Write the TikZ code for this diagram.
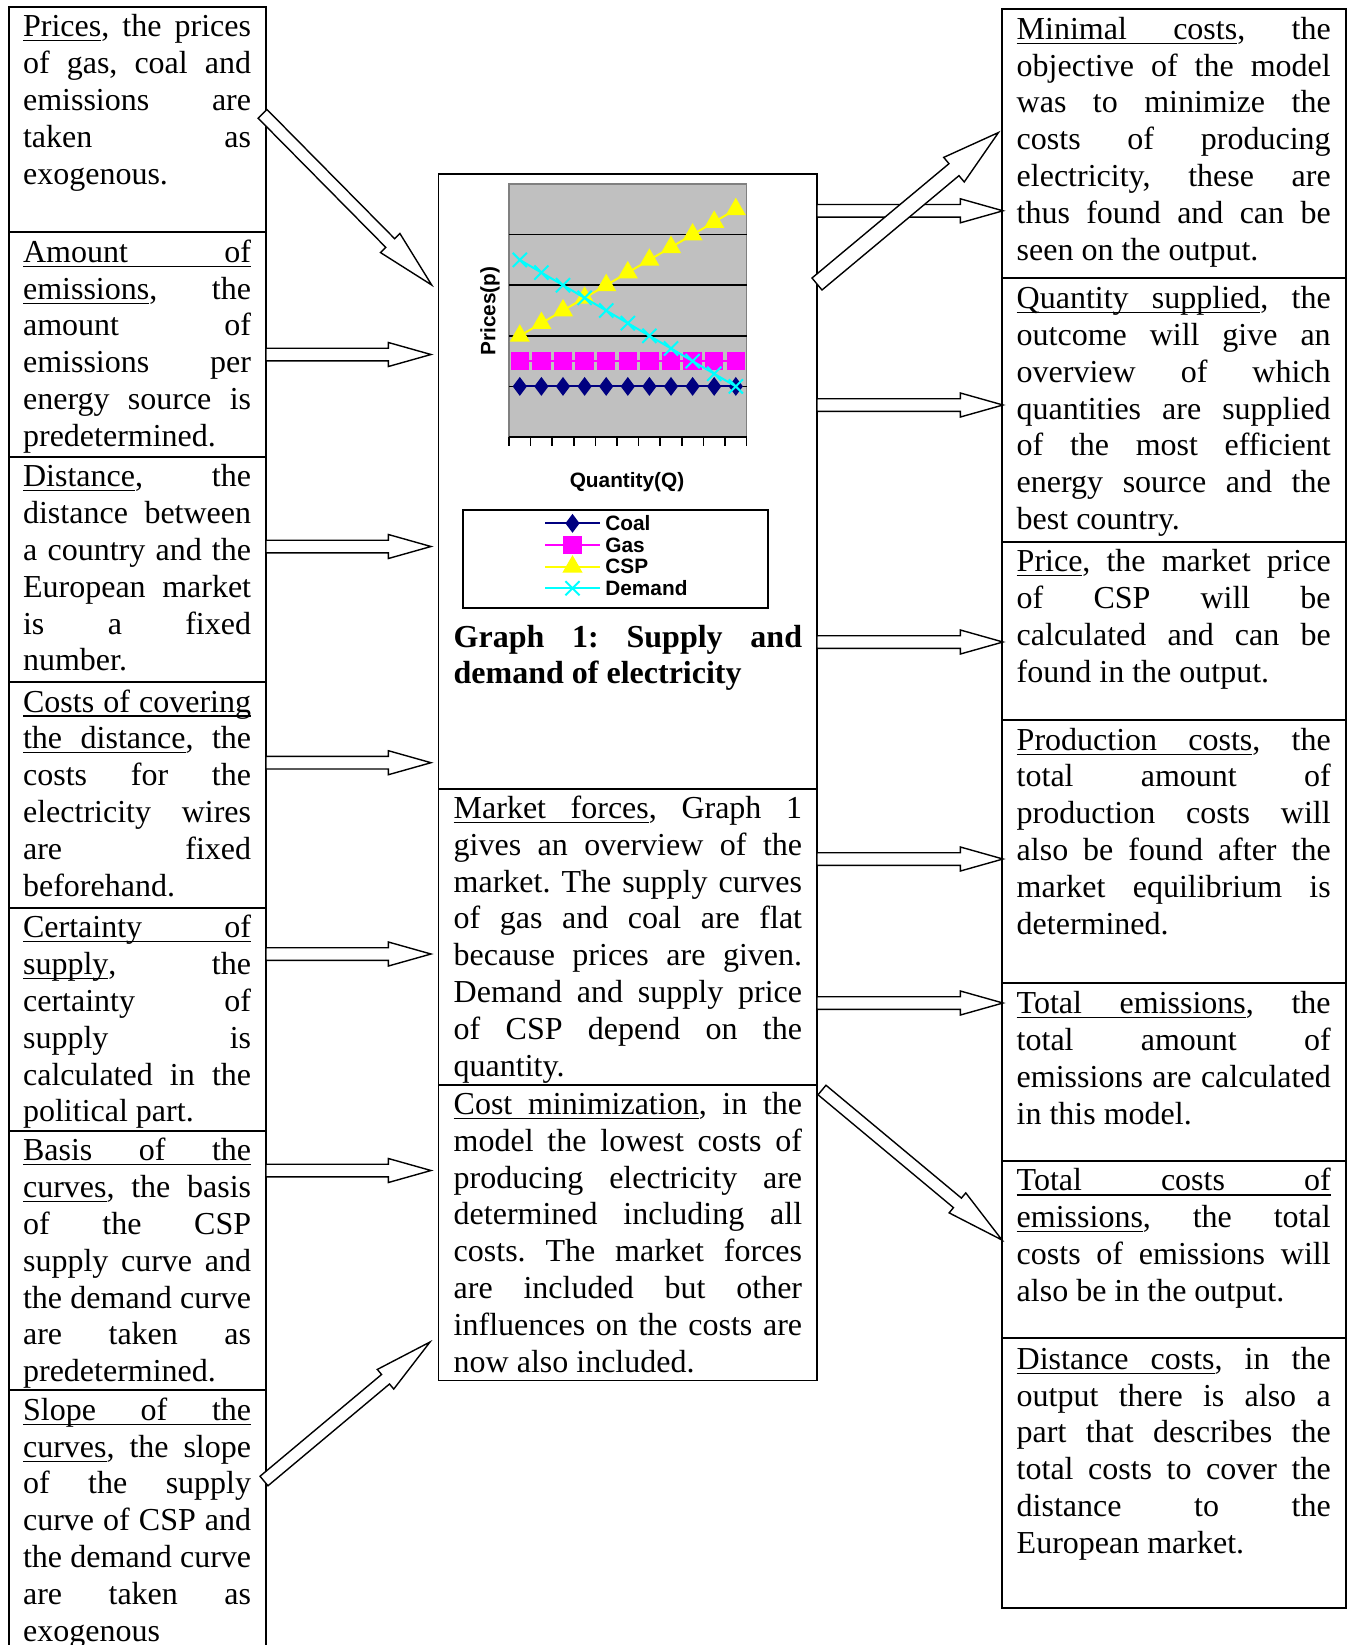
\documentclass[tikz,border=0pt]{standalone}
\usepackage{fontspec}
\setmainfont{Liberation Serif}
\setsansfont{Liberation Sans}
\usetikzlibrary{calc, fit, plotmarks}
\definecolor{plotgray}{HTML}{C0C0C0}
\definecolor{framegray}{HTML}{808080}
\definecolor{coalblue}{HTML}{000080}
\definecolor{gasmag}{HTML}{FF00FF}
\definecolor{cspyel}{HTML}{FFFF00}
\definecolor{demcyan}{HTML}{00FFFF}
\newcommand\bodyfont{\fontsize{16}{18.4}\selectfont\frenchspacing}
\newcommand\chartfont{\fontsize{10.4}{12}\selectfont\sffamily\bfseries}
% blocos de texto das colunas
\newcommand\lcol[1]{\vtop{\hsize=114pt #1}}
\newcommand\ccol[1]{\vtop{\hsize=174.2pt #1}}
\newcommand\rcol[1]{\vtop{\hsize=157pt #1}}
% linha justificada / ultima linha
\newcommand\jl[1]{\hbox to\hsize{\strut#1}}
\newcommand\lastl[1]{\hbox{\strut#1}}
% palavra sublinhada / espaco sublinhado
\newcommand\uw[1]{\setbox0\hbox{#1}\rlap{\vrule width\wd0 height -1.7pt depth 2.3pt}\box0}
\newcommand\ulsp{\leaders\hrule height -1.7pt depth 2.3pt\hskip\fontdimen2\font plus\fontdimen3\font minus\fontdimen4\font}
% seta de bloco: meia largura da haste, comprimento da ponta, meia largura da ponta, origem, destino
\newcommand\blockarrow[5]{%
  \coordinate (ah) at ($(#5)!#2!(#4)$);
  \draw[barrow] ($(#4)!#1!90:(#5)$) -- ($(ah)!#1!-90:(#4)$)
    -- ($(ah)!#3!-90:(#4)$) -- (#5) -- ($(ah)!#3!90:(#4)$)
    -- ($(ah)!#1!90:(#4)$) -- ($(#4)!#1!-90:(#5)$) -- cycle;}

\begin{document}
\begin{tikzpicture}[x=0.5pt, y=-0.5pt,
    box/.style={draw, line width=1pt, inner sep=0pt, outer sep=0pt},
    txt/.style={anchor=north west, inner sep=0pt, font=\bodyfont},
    barrow/.style={draw, fill=white, line width=0.7pt, line join=miter},
    coal/.style={coalblue, line width=1pt, mark=diamond*, mark size=3.9pt},
    gas/.style={gasmag, line width=1pt, mark=square*, mark size=4.1pt},
    csp/.style={cspyel, line width=1pt, mark=triangle*, mark size=4.8pt},
    demand/.style={demcyan, line width=1pt, mark=x, mark size=5pt},
    axlabel/.style={font=\chartfont, inner sep=0pt}]
    \useasboundingbox (0,0) rectangle (1353,1645);

    % Coluna esquerda
    \node[box, fit={(8.5,6.5) (266,232)}] (prices) {};
    \node[txt] (pricesT) at ($(prices.north west)+(14.2,4.2)$)
        {\lcol{\jl{\uw{Prices}, the prices}\jl{of gas, coal and}\jl{emissions are}\jl{taken as}\lastl{exogenous.}}};
    \node[box, fit={(8.5,232) (266,456.5)}] (amount) {};
    \node[txt] (amountT) at ($(amount.north west)+(14.2,4.2)$)
        {\lcol{\jl{\uw{Amount}\ulsp\uw{of}}\jl{\uw{emissions}, the}\jl{amount of}\jl{emissions per}\jl{energy source is}\lastl{predetermined.}}};
    \node[box, fit={(8.5,456.5) (266,681.7)}] (distance) {};
    \node[txt] (distanceT) at ($(distance.north west)+(14.2,4.2)$)
        {\lcol{\jl{\uw{Distance}, the}\jl{distance between}\jl{a country and the}\jl{European market}\jl{is a fixed}\lastl{number.}}};
    \node[box, fit={(8.5,681.7) (266,907.5)}] (covering) {};
    \node[txt] (coveringT) at ($(covering.north west)+(14.2,4.2)$)
        {\lcol{\jl{\uw{Costs}\ulsp\uw{of}\ulsp\uw{covering}}\jl{\uw{the}\ulsp\uw{distance}, the}\jl{costs for the}\jl{electricity wires}\jl{are fixed}\lastl{beforehand.}}};
    \node[box, fit={(8.5,907.5) (266,1130.5)}] (certainty) {};
    \node[txt] (certaintyT) at ($(certainty.north west)+(14.2,4.2)$)
        {\lcol{\jl{\uw{Certainty}\ulsp\uw{of}}\jl{\uw{supply}, the}\jl{certainty of}\jl{supply is}\jl{calculated in the}\lastl{political part.}}};
    \node[box, fit={(8.5,1130.5) (266,1390)}] (basis) {};
    \node[txt] (basisT) at ($(basis.north west)+(14.2,4.2)$)
        {\lcol{\jl{\uw{Basis}\ulsp\uw{of}\ulsp\uw{the}}\jl{\uw{curves}, the basis}\jl{of the CSP}\jl{supply curve and}\jl{the demand curve}\jl{are taken as}\lastl{predetermined.}}};
    \node[box, fit={(8.5,1390) (266,1656)}] (slope) {};
    \node[txt] (slopeT) at ($(slope.north west)+(14.2,4.2)$)
        {\lcol{\jl{\uw{Slope}\ulsp\uw{of}\ulsp\uw{the}}\jl{\uw{curves}, the slope}\jl{of the supply}\jl{curve of CSP and}\jl{the demand curve}\jl{are taken as}\lastl{exogenous}}};

    % Coluna central
    \node[box, line width=0.9pt, fit={(438.5,174) (817,789)}] (graph) {};
    \node[txt, font=\bodyfont\bfseries] (caption) at ($(graph.north west)+(14.8,446.9)$)
        {\ccol{\jl{Graph 1: Supply and}\lastl{demand of electricity}}};
    \node[box, line width=0.9pt, fit={(438.5,789) (817,1085)}] (market) {};
    \node[txt] (marketT) at ($(market.north west)+(14.8,3.3)$)
        {\ccol{\jl{\uw{Market}\ulsp\uw{forces}, Graph 1}\jl{gives an overview of the}\jl{market. The supply curves}\jl{of gas and coal are flat}\jl{because prices are given.}\jl{Demand and supply price}\jl{of CSP depend on the}\lastl{quantity.}}};
    \node[box, line width=0.9pt, fit={(438.5,1085) (817,1380.5)}] (costmin) {};
    \node[txt] (costminT) at ($(costmin.north west)+(14.8,3.3)$)
        {\ccol{\jl{\uw{Cost}\ulsp\uw{minimization}, in the}\jl{model the lowest costs of}\jl{producing electricity are}\jl{determined including all}\jl{costs. The market forces}\jl{are included but other}\jl{influences on the costs are}\lastl{now also included.}}};

    % Coluna direita
    \node[box, fit={(1001.8,8.5) (1345.6,278)}] (minimal) {};
    \node[txt] (minimalT) at ($(minimal.north west)+(14.5,4.6)$)
        {\rcol{\jl{\uw{Minimal}\ulsp\uw{costs}, the}\jl{objective of the model}\jl{was to minimize the}\jl{costs of producing}\jl{electricity, these are}\jl{thus found and can be}\lastl{seen on the output.}}};
    \node[box, fit={(1001.8,278) (1345.6,542.3)}] (quantity) {};
    \node[txt] (quantityT) at ($(quantity.north west)+(14.5,4.6)$)
        {\rcol{\jl{\uw{Quantity}\ulsp\uw{supplied}, the}\jl{outcome will give an}\jl{overview of which}\jl{quantities are supplied}\jl{of the most efficient}\jl{energy source and the}\lastl{best country.}}};
    \node[box, fit={(1001.8,542.3) (1345.6,719.7)}] (price) {};
    \node[txt] (priceT) at ($(price.north west)+(14.5,3.4)$)
        {\rcol{\jl{\uw{Price}, the market price}\jl{of CSP will be}\jl{calculated and can be}\lastl{found in the output.}}};
    \node[box, fit={(1001.8,719.7) (1345.6,982.7)}] (production) {};
    \node[txt] (productionT) at ($(production.north west)+(14.5,4.3)$)
        {\rcol{\jl{\uw{Production}\ulsp\uw{costs}, the}\jl{total amount of}\jl{production costs will}\jl{also be found after the}\jl{market equilibrium is}\lastl{determined.}}};
    \node[box, fit={(1001.8,982.7) (1345.6,1160.5)}] (totem) {};
    \node[txt] (totemT) at ($(totem.north west)+(14.5,4.9)$)
        {\rcol{\jl{\uw{Total}\ulsp\uw{emissions}, the}\jl{total amount of}\jl{emissions are calculated}\lastl{in this model.}}};
    \node[box, fit={(1001.8,1160.5) (1345.6,1338.3)}] (totcost) {};
    \node[txt] (totcostT) at ($(totcost.north west)+(14.5,4.3)$)
        {\rcol{\jl{\uw{Total}\ulsp\uw{costs}\ulsp\uw{of}}\jl{\uw{emissions}, the total}\jl{costs of emissions will}\lastl{also be in the output.}}};
    \node[box, fit={(1001.8,1338.3) (1345.6,1607.5)}] (distcost) {};
    \node[txt] (distcostT) at ($(distcost.north west)+(14.5,4.9)$)
        {\rcol{\jl{\uw{Distance}\ulsp\uw{costs}, in the}\jl{output there is also a}\jl{part that describes the}\jl{total costs to cover the}\jl{distance to the}\lastl{European market.}}};

    % Grafico
    \begin{scope}[shift={(509,437)}, x=10.8pt, y=25.3pt]
        \fill[plotgray] (0,0) rectangle (11,5);
        \draw[framegray, line width=0.8pt] (0,0) rectangle (11,5);
        \foreach \v in {1,...,4} {
            \draw[line width=0.8pt] (0,\v) -- (11,\v);
        }
        \draw[line width=1pt] (0,0) -- (11,0);
        \foreach \k in {0,...,11} {
            \draw[line width=0.8pt] (\k,0) -- (\k,-0.18);
        }
        \draw[coal] plot[domain=0.5:10.5, samples=11] (\x,1);
        \draw[gas] plot[domain=0.5:10.5, samples=11] (\x,1.5);
        \draw[csp] plot[domain=0.5:10.5, samples=11] (\x,{2+0.25*(\x-0.5)});
        \draw[demand] plot[domain=0.5:10.5, samples=11] (\x,{3.5-0.25*(\x-0.5)});
    \end{scope}
    \node[axlabel, rotate=90] (yaxis) at (490,311) {Prices(p)};
    \node[axlabel] (xaxis) at (627,482) {Quantity(Q)};

    % Legenda
    \node[box, fit={(463,509.5) (767.5,607.5)}] (legend) {};
    \foreach \ent/\st/\yy in {Coal/coal/523.3, Gas/gas/545, CSP/csp/566.7, Demand/demand/588.3} {
        \draw[\st, mark indices={2}] plot coordinates {(545,\yy) (572.5,\yy) (600,\yy)};
        \node[axlabel, anchor=west] (leg\ent) at (605,\yy) {\ent};
    }

    % Setas de entrada
    \foreach \src/\yy in {amount/354.5, distance/546.5, covering/762.7, certainty/954, basis/1170.5} {
        \coordinate (to\src) at (431,\yy);
        \coordinate (from\src) at (\src.east |- to\src);
        \blockarrow{3.15pt}{21.3pt}{6pt}{from\src}{to\src}
    }
    \coordinate (fromprices) at (262.5,113.8);
    \coordinate (toprices) at (431.7,285);
    \blockarrow{3.1pt}{29.5pt}{6.8pt}{fromprices}{toprices}
    \coordinate (fromslope) at (264,1481);
    \coordinate (toslope) at (430,1342);
    \blockarrow{3.1pt}{29pt}{6.4pt}{fromslope}{toslope}

    % Setas de saida
    \foreach \dst/\src/\yy in {minimal/graph/210.8, quantity/graph/405, price/graph/642, production/market/859, totem/market/1003} {
        \coordinate (to\dst) at (1003,\yy);
        \coordinate (from\dst) at (\src.east |- to\dst);
        \blockarrow{3.15pt}{21.3pt}{6pt}{from\dst}{to\dst}
    }
    \coordinate (graphout) at (817,284);
    \coordinate (minimalin) at (998.5,132.5);
    \blockarrow{3.9pt}{29pt}{8pt}{graphout}{minimalin}
    \coordinate (costminout) at (822,1090);
    \coordinate (totcostin) at (1002,1240);
    \blockarrow{3.1pt}{29pt}{6.5pt}{costminout}{totcostin}
\end{tikzpicture}
\end{document}
